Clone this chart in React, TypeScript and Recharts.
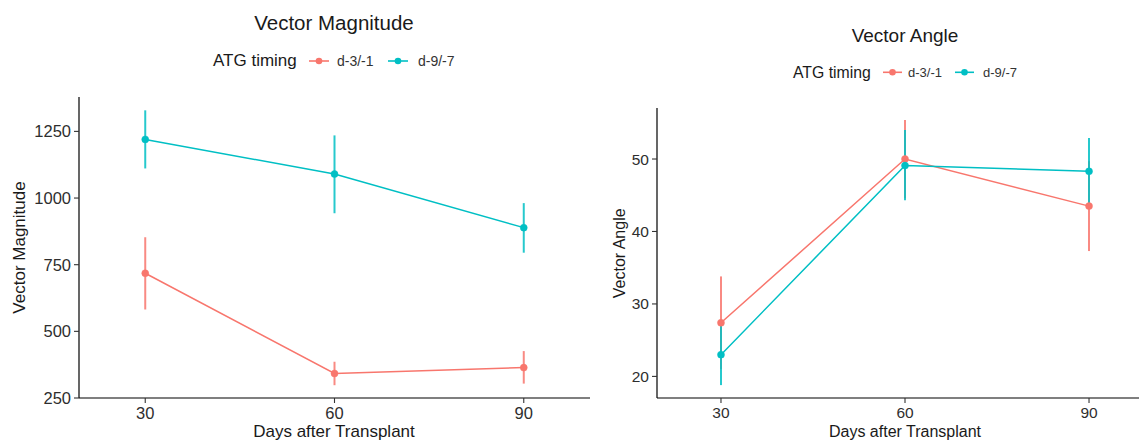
import React from 'react';
import { ComposedChart, Line, XAxis, YAxis, ErrorBar } from 'recharts';

const FONT = '"Liberation Sans", Arial, Helvetica, sans-serif';
const RED = '#F8766D';
const CYAN = '#00BFC4';

// x categories (days after transplant)
const days = [30, 60, 90];
const groups = ['d-3/-1', 'd-9/-7'];
const groupColors = [RED, CYAN];

// Vector Magnitude: mean, lower and upper bound of the error bar
const magEarly = [718, 342, 364];
const magEarlyLow = [582, 298, 304];
const magEarlyHigh = [853, 386, 426];
const magLate = [1220, 1090, 889];
const magLateLow = [1111, 943, 795];
const magLateHigh = [1329, 1235, 981];
const magTicks = [250, 500, 750, 1000, 1250];

// Vector Angle
const angEarly = [27.4, 50.0, 43.5];
const angEarlyLow = [21.0, 44.6, 37.3];
const angEarlyHigh = [33.8, 55.4, 49.7];
const angLate = [23.0, 49.1, 48.3];
const angLateLow = [18.8, 44.3, 43.7];
const angLateHigh = [27.2, 54.0, 52.9];
const angTicks = [20, 30, 40, 50];

const buildRows = (early: number[], eLow: number[], eHigh: number[], late: number[], lLow: number[], lHigh: number[]) =>
  days.map((d, i) => ({
    day: d,
    early: early[i],
    earlyErr: [early[i] - eLow[i], eHigh[i] - early[i]],
    late: late[i],
    lateErr: [late[i] - lLow[i], lHigh[i] - late[i]]
  }));

const panels = [
  {
    title: 'Vector Magnitude',
    yLabel: 'Vector Magnitude',
    rows: buildRows(magEarly, magEarlyLow, magEarlyHigh, magLate, magLateLow, magLateHigh),
    yDomain: [250, 1379],
    yTicks: magTicks,
    xDomain: [19.5, 100.5],
    left: 0,
    width: 600,
    margin: { top: 97, right: 10, left: 19, bottom: 0 },
    tickFs: 16.5,
    titleFs: 20.5,
    titleX: 334,
    titleY: 29.5,
    legend: { titleX: 213, titleY: 66, fs: 17, itemFs: 14, keyY: 61, keys: [309, 388], labels: [337, 418], keyLen: 20, labelY: 65.5 },
    axisFs: 17,
    xTitle: { x: 334, y: 437 },
    yTitle: { x: 24.5, y: 247.5 }
  },
  {
    title: 'Vector Angle',
    yLabel: 'Vector Angle',
    rows: buildRows(angEarly, angEarlyLow, angEarlyHigh, angLate, angLateLow, angLateHigh),
    yDomain: [17.02, 57.04],
    yTicks: angTicks,
    xDomain: [19.57, 100.43],
    left: 560,
    width: 620,
    margin: { top: 108, right: 27, left: 37, bottom: 0 },
    tickFs: 15.5,
    titleFs: 19,
    titleX: 905,
    titleY: 41.5,
    legend: { titleX: 793, titleY: 77.5, fs: 15.8, itemFs: 13, keyY: 72.3, keys: [883, 955], labels: [908, 983], keyLen: 19, labelY: 76.5 },
    axisFs: 16,
    xTitle: { x: 905, y: 436.5 },
    yTitle: { x: 625, y: 253.3 }
  }
];

const Panel = ({ p }: { p: any }) => (
  <div style={{ position: 'absolute', left: p.left, top: 0 }}>
    <ComposedChart width={p.width} height={440} data={p.rows} margin={p.margin}>
      <XAxis
        dataKey="day"
        type="number"
        domain={p.xDomain}
        ticks={days}
        interval={0}
        allowDataOverflow
        height={42}
        tickSize={5}
        tickMargin={4}
        axisLine={{ stroke: '#000', strokeWidth: 1.2 }}
        tickLine={{ stroke: '#333', strokeWidth: 1.1 }}
        tick={{ fill: '#2e2e2e', fontSize: p.tickFs, fontFamily: FONT }}
      />
      <YAxis
        type="number"
        domain={p.yDomain}
        ticks={p.yTicks}
        interval={0}
        allowDataOverflow
        width={60}
        tickSize={5}
        tickMargin={3}
        axisLine={{ stroke: '#000', strokeWidth: 1.2 }}
        tickLine={{ stroke: '#333', strokeWidth: 1.1 }}
        tick={{ fill: '#2e2e2e', fontSize: p.tickFs, fontFamily: FONT }}
      />
      <Line
        dataKey="early"
        stroke={RED}
        strokeWidth={1.5}
        dot={{ r: 3.5, fill: RED, stroke: RED, strokeWidth: 0.5 }}
        activeDot={false}
        isAnimationActive={false}
      >
        <ErrorBar dataKey="earlyErr" direction="y" width={0} stroke={RED} strokeWidth={2} strokeOpacity={0.85} isAnimationActive={false} />
      </Line>
      <Line
        dataKey="late"
        stroke={CYAN}
        strokeWidth={1.5}
        dot={{ r: 3.5, fill: CYAN, stroke: CYAN, strokeWidth: 0.5 }}
        activeDot={false}
        isAnimationActive={false}
      >
        <ErrorBar dataKey="lateErr" direction="y" width={0} stroke={CYAN} strokeWidth={2} strokeOpacity={0.85} isAnimationActive={false} />
      </Line>
    </ComposedChart>
  </div>
);

const Overlay = () => (
  <svg width={1139} height={440} style={{ position: 'absolute', left: 0, top: 0, pointerEvents: 'none' }} fontFamily={FONT}>
    {panels.map((p) => (
      <g key={p.title}>
        <text x={p.titleX} y={p.titleY} textAnchor="middle" fontSize={p.titleFs} fill="#1a1a1a">{p.title}</text>
        <text x={p.legend.titleX} y={p.legend.titleY} fontSize={p.legend.fs} fill="#1a1a1a">ATG timing</text>
        {groups.map((g, i) => (
          <g key={g}>
            <line x1={p.legend.keys[i]} x2={p.legend.keys[i] + p.legend.keyLen} y1={p.legend.keyY} y2={p.legend.keyY} stroke={groupColors[i]} strokeWidth={1.6} />
            <circle cx={p.legend.keys[i] + p.legend.keyLen / 2} cy={p.legend.keyY} r={3.3} fill={groupColors[i]} />
            <text x={p.legend.labels[i]} y={p.legend.labelY} fontSize={p.legend.itemFs} fill="#333">{g}</text>
          </g>
        ))}
        <text x={p.xTitle.x} y={p.xTitle.y} textAnchor="middle" fontSize={p.axisFs} fill="#1a1a1a">Days after Transplant</text>
        <text
          x={p.yTitle.x}
          y={p.yTitle.y}
          textAnchor="middle"
          fontSize={p.axisFs}
          fill="#1a1a1a"
          transform={`rotate(-90 ${p.yTitle.x} ${p.yTitle.y})`}
        >
          {p.yLabel}
        </text>
      </g>
    ))}
  </svg>
);

export default function App() {
  return (
    <div style={{ position: 'absolute', left: 0, top: 0, width: 1139, height: 440, overflow: 'hidden', background: '#fff', fontFamily: FONT }}>
      {panels.map((p) => (
        <Panel key={p.title} p={p} />
      ))}
      <Overlay />
    </div>
  );
}
